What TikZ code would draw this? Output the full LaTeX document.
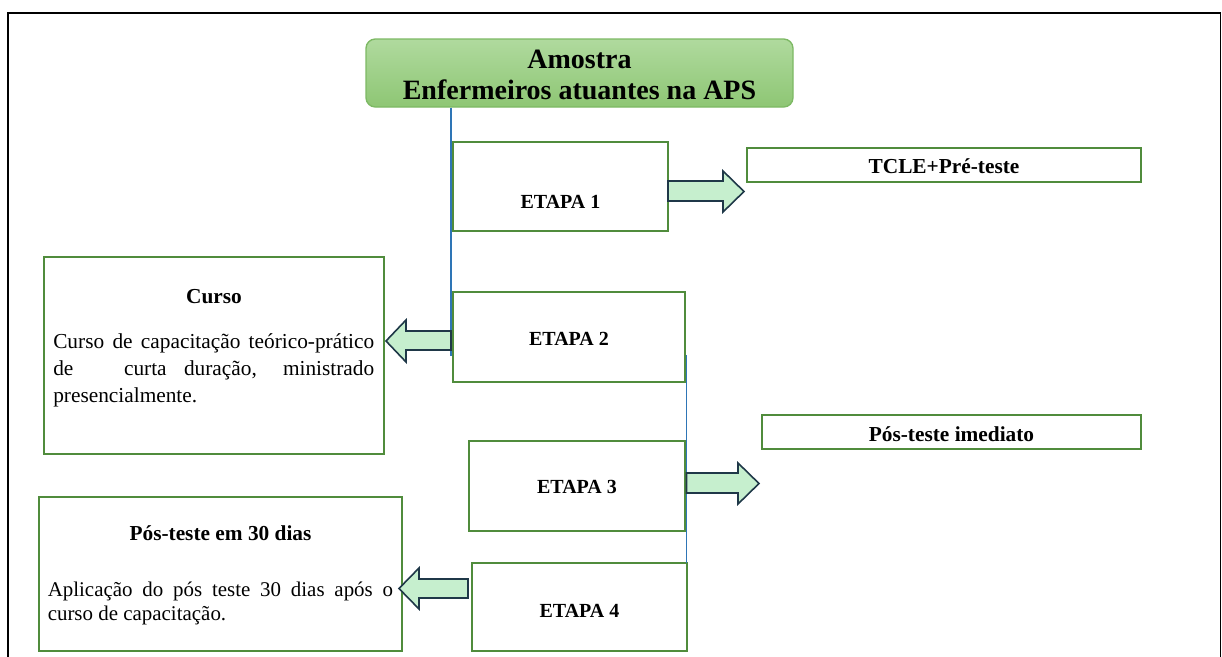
\documentclass[tikz,border=0pt]{standalone}
\usepackage{fontspec}
\setmainfont{Liberation Serif}
\definecolor{boxgreen}{RGB}{80,140,60}
\definecolor{arrfill}{RGB}{198,239,206}
\definecolor{arrdraw}{RGB}{31,56,72}
\definecolor{linkblue}{RGB}{46,117,182}
\definecolor{amotop}{RGB}{176,218,158}
\definecolor{amobot}{RGB}{142,198,116}
\definecolor{amodraw}{RGB}{125,185,100}
\newcommand\pxbox[6][]{\node[boxst,#1,minimum width={(#5-#3)*0.75pt},minimum height={(#6-#4)*0.75pt}] (#2) at ({(#3+#5)/2},{(#4+#6)/2}) {};}
\begin{document}
\begin{tikzpicture}[x=0.75pt,y=-0.75pt,
  boxst/.style={draw=boxgreen, line width=1.2pt, fill=white, inner sep=0pt, outer sep=0pt},
  barrow/.style={draw=arrdraw, fill=arrfill, line width=1.2pt, line join=miter},
  link/.style={draw=linkblue, line width=1.1pt},
  lbl/.style={anchor=base, inner sep=0pt, font=\fontsize{15}{18}\selectfont\bfseries},
  ttl/.style={anchor=base, inner sep=0pt, font=\fontsize{16}{19}\selectfont\bfseries},
  body/.style={anchor=north west, inner sep=0pt, align=left},
  frame/.style={draw=black, line width=1.2pt}]
\useasboundingbox (0,0) rectangle (1222,657);
\draw[frame] (8,657) -- (8,13) -- (1220.5,13) -- (1220.5,657);

\node[draw=amodraw, line width=1pt, rounded corners=7pt, top color=amotop, bottom color=amobot,
      minimum width={(793-366)*0.75pt}, minimum height={(107-39)*0.75pt}, inner sep=0pt,
      align=center, font=\fontsize{21}{23}\selectfont\bfseries] (amo) at (579.5,73)
      {\raisebox{0pt}[17pt][0pt]{Amostra}\\Enfermeiros atuantes na APS};
\coordinate (l1end) at (451,356);
\coordinate (l2top) at (686.5,355);

% boxes
\pxbox{e1}{453}{142}{668}{231}
\pxbox{e2}{453}{292}{685}{382}
\pxbox{e3}{469}{441}{685}{531}
\pxbox{e4}{472}{563}{687}{651}
\pxbox{tcle}{747}{148}{1141}{182}
\pxbox{posi}{762}{415}{1141}{449}
\pxbox{curso}{44}{257}{384}{454}
\pxbox{pos30}{39}{497}{402}{651}

\draw[link] (amo.south -| l1end) -- (l1end);
\draw[link] (l2top) -- (l2top |- e4.north);

% labels
\node[lbl] at (e1.center |- 0,208) {ETAPA 1};
\node[lbl] at (e2.center |- 0,345) {ETAPA 2};
\node[lbl] at (e3.center |- 0,493) {ETAPA 3};
\node[lbl] at (e4.center |- 0,617) {ETAPA 4};
\node[ttl] at (tcle.center |- 0,173) {TCLE+Pré-teste};
\node[ttl] at (posi.center |- 0,441) {Pós-teste imediato};
\node[ttl] at (curso.center |- 0,303) {Curso};
\node[ttl] at (pos30.center |- 0,540) {Pós-teste em 30 dias};

\node[body, font=\fontsize{16}{20.25}\selectfont] at (53,329)
  {\strut\makebox[240.75pt][l]{Curso\hfill de\hfill capacitação\hfill teórico-prático}\\
   \makebox[240.75pt][l]{de\hspace{38pt}curta\hspace{13pt}duração,\hfill ministrado}\\
   presencialmente.};
\node[body, font=\fontsize{15.7}{18}\selectfont] at (47.5,579)
  {\strut\makebox[259pt][l]{Aplicação\hfill do\hfill pós\hfill teste\hfill 30\hfill dias\hfill após\hfill o}\\
   curso de capacitação.};

% block arrows
\draw[barrow] (e1.east |- 0,181) -- (723,181) -- (723,171) -- (744,191.5) -- (723,212) -- (723,201) -- (e1.east |- 0,201) -- cycle;
\draw[barrow] (l1end |- 0,331) -- (406,331) -- (406,320) -- (386,341) -- (406,362) -- (406,350) -- (l1end |- 0,350) -- cycle;
\draw[barrow] (l2top |- 0,473) -- (738,473) -- (738,463) -- (759,483.5) -- (738,504) -- (738,493) -- (l2top |- 0,493) -- cycle;
\draw[barrow] (468,579) -- (419,579) -- (419,568) -- (399,588.5) -- (419,609) -- (419,598) -- (468,598) -- cycle;
\end{tikzpicture}
\end{document}
